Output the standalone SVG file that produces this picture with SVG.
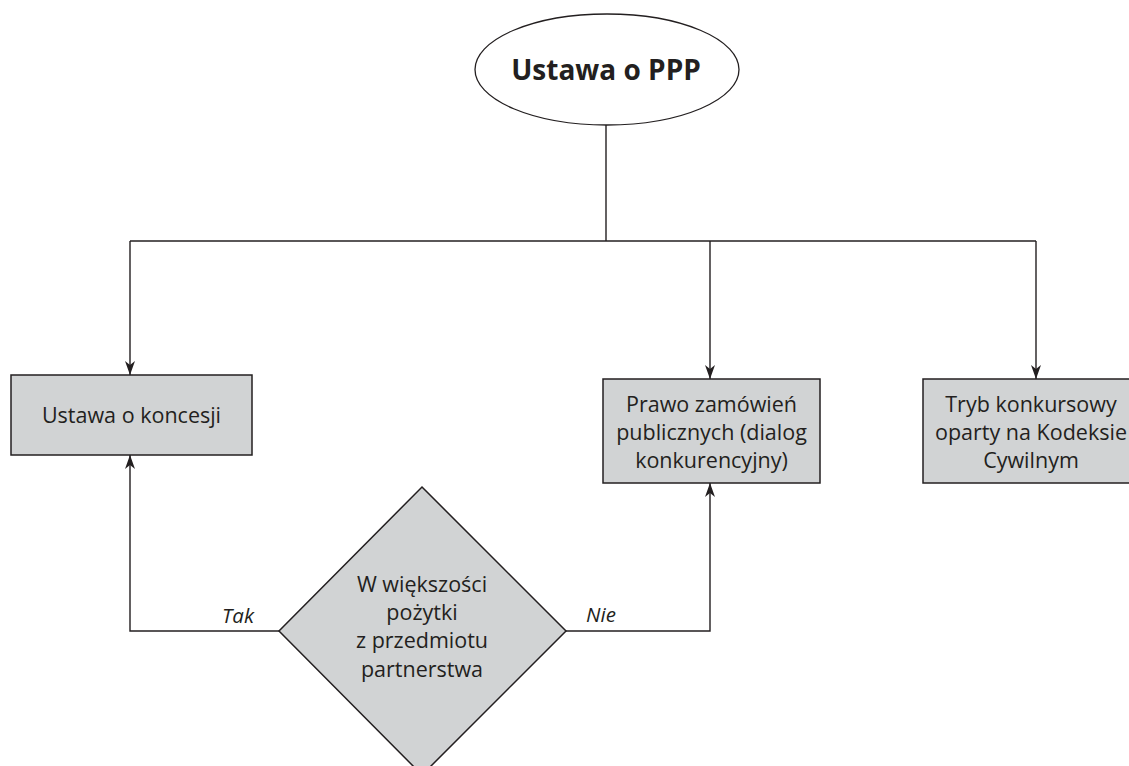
<svg xmlns="http://www.w3.org/2000/svg" width="1129" height="766" viewBox="0 0 1129 766">
  <style>
    .shape { fill: #d1d3d4; stroke: #231f20; stroke-width: 1.5; }
    .oval { fill: #ffffff; stroke: #231f20; stroke-width: 1.3; }
    .line { fill: none; stroke: #231f20; stroke-width: 1.4; }
    .txt { font-family: "Open Sans", "Noto Sans", sans-serif; font-size: 21.5px; fill: #231f20; text-anchor: middle; }
    .title { font-family: "Open Sans", "Noto Sans", sans-serif; font-size: 28px; font-weight: bold; fill: #231f20; text-anchor: middle; }
    .lbl { font-family: "Open Sans", "Noto Sans", sans-serif; font-size: 20.5px; font-style: italic; fill: #231f20; text-anchor: middle; }
  </style>
  <defs>
    <marker id="arrow" markerUnits="userSpaceOnUse" markerWidth="14" markerHeight="12" viewBox="0 0 14 12" refX="14" refY="6" orient="auto">
      <path d="M0,1 L14,6 L0,11 L4,6 z" fill="#231f20"/>
    </marker>
  </defs>

  <rect width="1129" height="766" fill="#ffffff"/>

  <!-- connectors -->
  <g id="connectors">
    <polyline class="line" points="606,125 606,241"/>
    <polyline class="line" points="130,241 1036,241"/>
    <polyline class="line" points="130,241 130,375" marker-end="url(#arrow)"/>
    <polyline class="line" points="710,241 710,379" marker-end="url(#arrow)"/>
    <polyline class="line" points="1036,241 1036,379" marker-end="url(#arrow)"/>
    <polyline class="line" points="279,631 130,631 130,455" marker-end="url(#arrow)"/>
    <polyline class="line" points="566,631 710,631 710,483" marker-end="url(#arrow)"/>
    <text class="lbl" x="238" y="623">Tak</text>
    <text class="lbl" x="601" y="622">Nie</text>
  </g>

  <!-- root -->
  <g id="ustawa-ppp">
    <ellipse class="oval" cx="607" cy="69.5" rx="132" ry="55.5"/>
    <text class="title" x="606" y="80">Ustawa o PPP</text>
  </g>

  <g id="ustawa-koncesji">
    <rect class="shape" x="11" y="375" width="241" height="80"/>
    <text class="txt" x="131.5" y="423">Ustawa o koncesji</text>
  </g>

  <g id="prawo-zamowien">
    <rect class="shape" x="603" y="379" width="217" height="104"/>
    <text class="txt" x="711.5" y="412">Prawo zamówień</text>
    <text class="txt" x="711.5" y="440">publicznych (dialog</text>
    <text class="txt" x="711.5" y="468">konkurencyjny)</text>
  </g>

  <g id="tryb-konkursowy">
    <rect class="shape" x="923" y="379" width="217" height="104"/>
    <text class="txt" x="1031" y="412">Tryb konkursowy</text>
    <text class="txt" x="1031" y="440">oparty na Kodeksie</text>
    <text class="txt" x="1031" y="468">Cywilnym</text>
  </g>

  <g id="decyzja">
    <polygon class="shape" points="422,487 566,631 422,775 279,631"/>
    <text class="txt" x="422" y="592">W większości</text>
    <text class="txt" x="422" y="620">pożytki</text>
    <text class="txt" x="422" y="648">z przedmiotu</text>
    <text class="txt" x="422" y="677">partnerstwa</text>
  </g>
</svg>
